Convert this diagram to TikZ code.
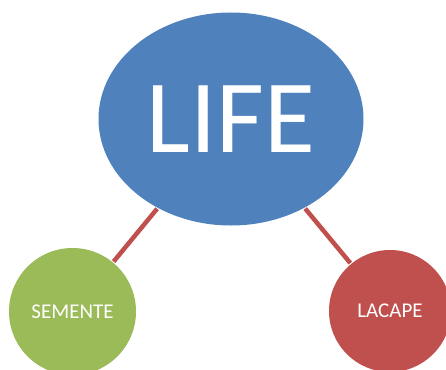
\documentclass[tikz,border=0pt]{standalone}
\usepackage{fontspec}
\setmainfont{Carlito}
\usetikzlibrary{shapes.geometric,positioning}
\definecolor{lifeblue}{HTML}{4F81BD}
\definecolor{sementegreen}{HTML}{9BBB59}
\definecolor{lacapered}{HTML}{C0504D}

\begin{document}
\begin{tikzpicture}[x=1pt,y=-1pt,
  hub/.style={ellipse,fill=lifeblue,inner sep=0pt,minimum width=265pt,
              minimum height=213pt,text=white,font=\fontsize{104}{110}\selectfont},
  partner/.style={circle,inner sep=0pt,text=white,font=\fontsize{21}{24}\selectfont},
  link/.style={draw=lacapered,line width=4.5pt,shorten <=1pt,shorten >=1pt}
]
  \useasboundingbox (0,0) rectangle (446,369);

  % Nodes
  \node[hub] (life) at (231,119) {LIFE};
  \node[partner,fill=sementegreen,minimum size=127pt] (semente) at (72.5,311.5) {SEMENTE};
  \node[partner,fill=lacapered,minimum size=122pt] (lacape) at (390,311) {LACAPE};

  % Links
  \draw[link] (life) -- (semente);
  \draw[link] (life) -- (lacape);
\end{tikzpicture}
\end{document}
